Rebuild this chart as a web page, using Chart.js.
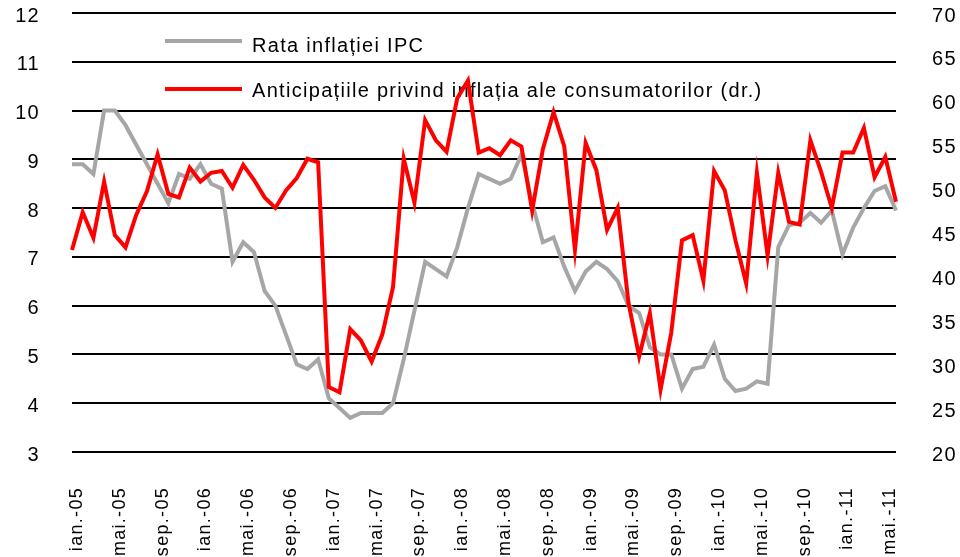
<!DOCTYPE html>
<html>
<head>
<meta charset="utf-8">
<script src="https://cdn.jsdelivr.net/npm/chart.js@4.4.1/dist/chart.umd.min.js"></script>
<style>
  html, body { margin: 0; padding: 0; background: #fff; }
  #wrap { width: 960px; height: 557px; position: relative; }
</style>
</head>
<body>
<div id="wrap"><canvas id="inflChart"></canvas></div>
<script>
// months ian.-05 .. iun.-11
const months = ['ian.', 'feb.', 'mar.', 'apr.', 'mai.', 'iun.', 'iul.', 'aug.', 'sep.', 'oct.', 'nov.', 'dec.'];
const years = ['05', '06', '07', '08', '09', '10', '11'];

// Rata inflatiei IPC (left axis, %)
const ipcRate = [
  8.9, 8.9, 8.7, 10.0, 10.0, 9.7, 9.3, 8.9, 8.5, 8.1, 8.7, 8.6,
  8.9, 8.5, 8.4, 6.9, 7.3, 7.1, 6.3, 6.0, 5.4, 4.8, 4.7, 4.9,
  4.1, 3.9, 3.7, 3.8, 3.8, 3.8, 4.0, 4.9, 5.9, 6.9, 6.75, 6.6,
  7.2, 8.0, 8.7, 8.6, 8.5, 8.6, 9.1, 8.1, 7.3, 7.4, 6.8, 6.3,
  6.7, 6.9, 6.75, 6.5, 6.0, 5.85, 5.15, 5.0, 5.0, 4.3, 4.7, 4.75,
  5.2, 4.5, 4.25, 4.3, 4.45, 4.4, 7.2, 7.65, 7.7, 7.9, 7.7, 7.95,
  7.05, 7.6, 8.0, 8.35, 8.45, 7.95
];

// Anticipatiile consumatorilor (right axis)
const expectations = [
  43.0, 47.3, 44.4, 50.8, 44.7, 43.3, 47.0, 49.7, 53.9, 49.4, 49.0, 52.4,
  50.8, 51.8, 52.0, 50.1, 52.7, 51.0, 49.0, 47.8, 49.8, 51.2, 53.4, 53.0,
  27.4, 26.8, 34.0, 32.7, 30.3, 33.4, 38.8, 53.4, 48.4, 57.8, 55.5, 54.2,
  60.3, 62.3, 54.1, 54.6, 53.8, 55.5, 54.8, 47.5, 54.5, 58.7, 54.8, 43.0,
  55.2, 52.1, 45.3, 47.8, 37.0, 30.9, 35.8, 27.1, 33.6, 44.1, 44.7, 39.5,
  52.0, 49.8, 44.1, 39.2, 51.8, 42.4, 51.8, 46.2, 45.9, 55.5, 51.9, 47.8,
  54.1, 54.1, 56.9, 51.3, 53.6, 48.5
];

const leftTicks = [3, 4, 5, 6, 7, 8, 9, 10, 11, 12];
const rightTicks = [20, 25, 30, 35, 40, 45, 50, 55, 60, 65, 70];

const categories = [];
years.forEach(y => months.forEach(m => {
  if (categories.length < ipcRate.length) categories.push(m + '-' + y);
}));

const FONT = '"Liberation Sans", Arial, sans-serif';

// Excel-like wide text
const spacing = {
  id: 'spacing',
  beforeLayout(chart) { chart.ctx.letterSpacing = '1.3px'; },
  beforeDraw(chart) { chart.ctx.letterSpacing = '1.3px'; }
};

// legend inside the plot, under the lines
const innerLegend = {
  id: 'innerLegend',
  beforeDatasetsDraw(chart) {
    const ctx = chart.ctx;
    const rows = [{ line: 41, text: 52 }, { line: 89, text: 97 }];
    ctx.save();
    ctx.font = '20px ' + FONT;
    ctx.fillStyle = '#000';
    ctx.textAlign = 'left';
    ctx.textBaseline = 'alphabetic';
    chart.data.datasets.forEach((ds, i) => {
      ctx.strokeStyle = ds.borderColor;
      ctx.lineWidth = 4;
      ctx.beginPath();
      ctx.moveTo(165, rows[i].line);
      ctx.lineTo(242, rows[i].line);
      ctx.stroke();
      ctx.fillText(ds.label, 252, rows[i].text);
    });
    ctx.restore();
  }
};

// fixed box sizes, no extra padding from tick labels
function fixBox(size, isX) {
  return s => {
    if (isX) s.height = size; else s.width = size;
    s.paddingTop = 0;
    s.paddingBottom = 0;
    s.paddingLeft = 0;
    s.paddingRight = 0;
  };
}

new Chart(document.getElementById('inflChart'), {
  type: 'line',
  data: {
    labels: categories,
    datasets: [
      {
        label: 'Rata inflației IPC',
        data: ipcRate,
        yAxisID: 'y',
        borderColor: '#a6a6a6',
        borderWidth: 4,
        pointRadius: 0,
        tension: 0,
        order: 1
      },
      {
        label: 'Anticipațiile privind inflația ale consumatorilor (dr.)',
        data: expectations,
        yAxisID: 'y1',
        borderColor: '#ff0000',
        borderWidth: 4,
        pointRadius: 0,
        tension: 0,
        order: 0
      }
    ]
  },
  options: {
    responsive: true,
    maintainAspectRatio: false,
    animation: false,
    layout: { padding: { top: 13, left: 0, right: 0, bottom: 0 } },
    plugins: {
      legend: { display: false },
      tooltip: { enabled: false }
    },
    scales: {
      x: {
        offset: false,
        grid: { display: false },
        border: { display: false },
        afterFit: fixBox(105, true),
        ticks: {
          autoSkip: false,
          maxRotation: 90,
          minRotation: 90,
          padding: 27,
          labelOffset: 5,
          color: '#000',
          font: { family: FONT, size: 18 },
          callback: (v, i) => (i % 4 === 0 ? categories[i] : '')
        }
      },
      y: {
        position: 'left',
        min: leftTicks[0],
        max: leftTicks[leftTicks.length - 1],
        afterFit: fixBox(72, false),
        grid: { color: '#000', lineWidth: 2, drawTicks: false },
        border: { display: false },
        ticks: {
          stepSize: leftTicks[1] - leftTicks[0],
          padding: 32,
          labelOffset: 3,
          color: '#000',
          font: { family: FONT, size: 20 }
        }
      },
      y1: {
        position: 'right',
        min: rightTicks[0],
        max: rightTicks[rightTicks.length - 1],
        afterFit: fixBox(64, false),
        grid: { display: false, drawTicks: false },
        border: { display: false },
        ticks: {
          stepSize: rightTicks[1] - rightTicks[0],
          padding: 36,
          labelOffset: 3,
          color: '#000',
          font: { family: FONT, size: 20 }
        }
      }
    }
  },
  plugins: [spacing, innerLegend]
});
</script>
</body>
</html>
